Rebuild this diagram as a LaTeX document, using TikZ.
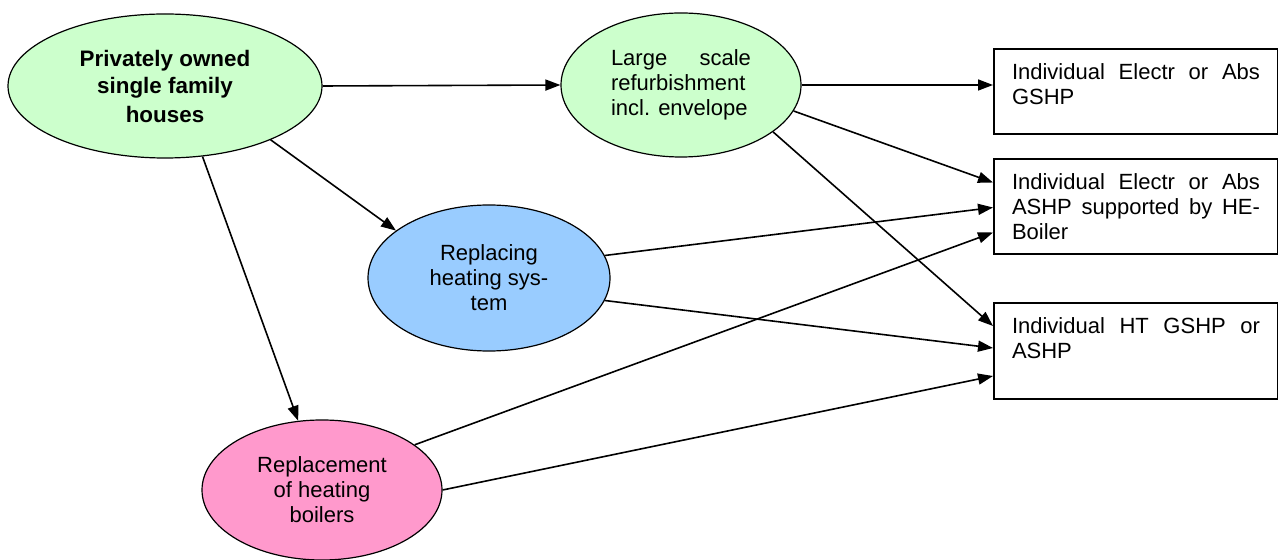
\documentclass[tikz,border=0pt]{standalone}
\usepackage{fontspec}
\setmainfont{Liberation Sans}
\usepackage{xcolor}
\usetikzlibrary{arrows.meta,shapes.geometric}

\definecolor{ownergreen}{HTML}{CCFFCC}
\definecolor{systemblue}{HTML}{99CCFF}
\definecolor{boilerpink}{HTML}{FF99CC}

\begin{document}
\begin{tikzpicture}[x=0.5pt,y=-0.5pt,>={Triangle[length=7.5pt,width=5.5pt]},
    blob/.style={ellipse,draw,line width=0.6pt,inner sep=0pt,align=center,
        font=\fontsize{11}{12.5}\selectfont},
    option/.style={draw,line width=1pt,anchor=north west,text width=124pt,
        align=justify,inner xsep=9pt,inner ysep=7.5pt,text height=8pt,
        font=\fontsize{11}{12.5}\selectfont},
    link/.style={->,line width=0.8pt}]
    \useasboundingbox (0,0) rectangle (1278,560);
    \node[blob,fill=ownergreen,minimum width=157pt,minimum height=72pt,
        font=\fontsize{11.2}{14}\selectfont\bfseries] (owners) at (165,86)
        {Privately owned\\single family\\houses};
    \node[blob,fill=ownergreen,minimum width=120pt,minimum height=72pt,
        text width=70pt,align=justify] (refurb) at (681,85)
        {Large scale\linebreak refurbishment\linebreak incl. envelope};
    \node[blob,fill=systemblue,minimum width=121pt,minimum height=73pt] (system) at (489,278)
        {Replacing\\heating sys-\\tem};
    \node[blob,fill=boilerpink,minimum width=120pt,minimum height=70pt] (boilers) at (322,490)
        {Replacement\\of heating\\boilers};
    \node[option,text depth=19.5pt] (gshp) at (993,48)
        {Individual Electr or Abs\linebreak GSHP};
    \node[option,text depth=24.5pt] (ashp) at (993,158)
        {Individual Electr or Abs\linebreak ASHP supported by HE-\linebreak Boiler};
    \node[option,text depth=25pt] (htgshp) at (993,302)
        {Individual HT GSHP or\linebreak ASHP};
    \draw[link] (owners.east) -- (refurb.west);
    \draw[link] (owners.-27) -- (system.153);
    \draw[link] (owners.-62) -- (boilers.109);
    \draw[link] (refurb.east) -- (gshp.west |- refurb.east);
    \draw[link] (refurb.-13) -- ([yshift=12pt]ashp.west);
    \draw[link] (refurb.-27) -- ([yshift=12.5pt]htgshp.west);
    \draw[link] (system.11) -- ([yshift=-0.5pt]ashp.west);
    \draw[link] (system.-11) -- ([yshift=1.5pt]htgshp.west);
    \draw[link] (boilers.26) -- ([yshift=-13pt]ashp.west);
    \draw[link] (boilers.east) -- ([yshift=-12.5pt]htgshp.west);
\end{tikzpicture}
\end{document}
